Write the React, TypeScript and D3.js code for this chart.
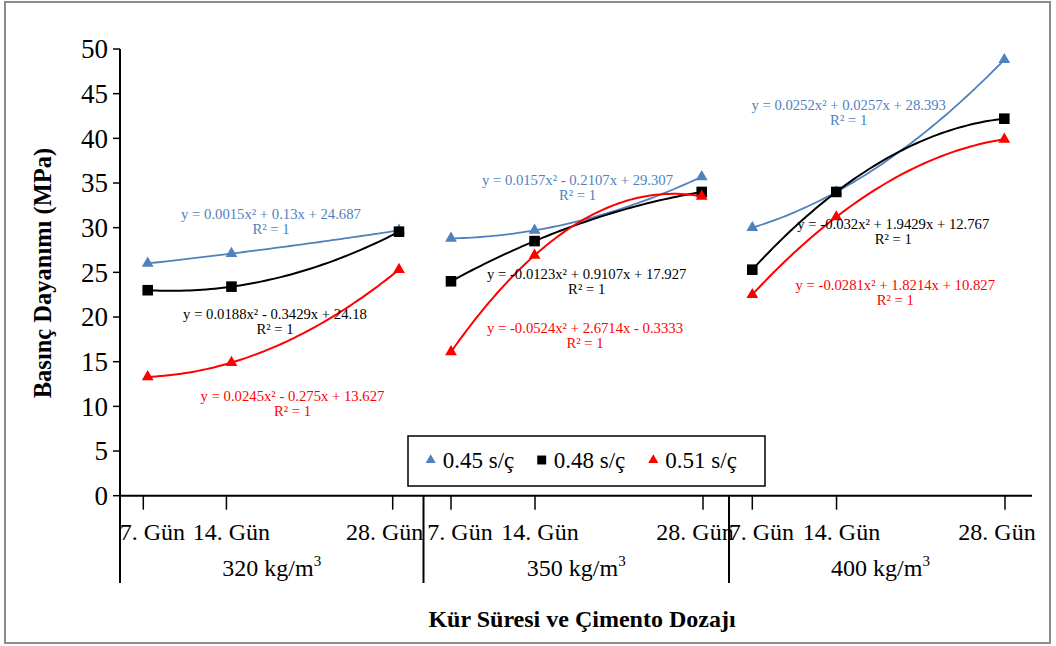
import React from "react";
import * as d3 from "d3";

// ---------- data ----------
const days = [7, 14, 28];
const dayLabels = ["7. Gün", "14. Gün", "28. Gün"];
const groups = ["320", "350", "400"];
const seriesNames = ["0.45 s/ç", "0.48 s/ç", "0.51 s/ç"];
const s045 = [
  [26.0, 27.1, 29.7],
  [28.8, 29.7, 35.7],
  [30.0, 34.0, 48.8],
];
const s048 = [
  [23.0, 23.4, 29.55],
  [24.0, 28.5, 34.0],
  [25.3, 34.0, 42.2],
];
const s051 = [
  [13.3, 14.9, 25.3],
  [16.1, 26.9, 33.5],
  [22.5, 31.2, 39.9],
];
const eq045 = [
  "y = 0.0015x² + 0.13x + 24.687",
  "y = 0.0157x² - 0.2107x + 29.307",
  "y = 0.0252x² + 0.0257x + 28.393",
];
const eq048 = [
  "y = 0.0188x² - 0.3429x + 24.18",
  "y = -0.0123x² + 0.9107x + 17.927",
  "y = -0.032x² + 1.9429x + 12.767",
];
const eq051 = [
  "y = 0.0245x² - 0.275x + 13.627",
  "y = -0.0524x² + 2.6714x - 0.3333",
  "y = -0.0281x² + 1.8214x + 10.827",
];
const yTicks = [0, 5, 10, 15, 20, 25, 30, 35, 40, 45, 50];

// ---------- layout ----------
const W = 1056;
const H = 646;
const AX_X = 120;
const AX_Y = 495.7;
const AX_END = 1032;
const pointRanges = [
  [147.7, 399],
  [451, 701.7],
  [752.3, 1004.3],
];
const tickRanges = [
  [143.3, 392.7],
  [451, 703],
  [752.3, 1005],
];
const separators = [AX_X, 423.5, 729];
const labelOffsets = [9, 5, -8];
// equation label centers [x, baseline y]
const eqPos = [
  [[271, 219], [577.5, 185], [848.7, 110]],
  [[275, 319.3], [586.7, 279.3], [893.3, 229.3]],
  [[292.5, 400.7], [585, 332.7], [895.3, 290]],
];
const colors = ["#4F81BD", "#000000", "#FF0000"];
const FONT = "'Liberation Serif', 'Times New Roman', serif";

const y = d3.scaleLinear().domain([0, 50]).range([AX_Y, 49]);

function quad(xs: number[], ys: number[]) {
  return (x: number) => {
    let s = 0;
    for (let i = 0; i < 3; i++) {
      let t = ys[i];
      for (let j = 0; j < 3; j++) if (j !== i) t *= (x - xs[j]) / (xs[i] - xs[j]);
      s += t;
    }
    return s;
  };
}

const allSeries = [s045, s048, s051];
const allEq = [eq045, eq048, eq051];
const triangle = d3.symbol().type(d3.symbolTriangle);
const square = d3.symbol().type(d3.symbolSquare);

export default function App() {
  const markerPath = (si: number, big: boolean) =>
    si === 1 ? square.size(big ? 112 : 80)() : triangle.size(big ? 60 : 44)();

  return (
    <svg
      width={W}
      height={H}
      style={{ position: "absolute", left: 0, top: 0, background: "#fff", fontFamily: FONT }}
    >
      <rect x={0} y={0} width={W} height={H} fill="#fff" />
      <rect x={5} y={2} width={1045} height={641} fill="none" stroke="#8c8c8c" strokeWidth={2} />

      {/* y axis */}
      <line x1={AX_X} x2={AX_X} y1={y(50)} y2={583} stroke="#000" strokeWidth={2} />
      {yTicks.map((t) => (
        <g key={t}>
          <line x1={AX_X - 7} x2={AX_X} y1={y(t)} y2={y(t)} stroke="#000" strokeWidth={1.5} />
          <text x={108} y={y(t)} dy="0.35em" textAnchor="end" fontSize={27}>
            {t}
          </text>
        </g>
      ))}
      <text
        transform={`translate(51,273) rotate(-90)`}
        textAnchor="middle"
        fontSize={24.5}
        fontWeight="bold"
      >
        Basınç Dayanımı (MPa)
      </text>

      {/* x axis */}
      <line x1={AX_X} x2={AX_END} y1={AX_Y} y2={AX_Y} stroke="#000" strokeWidth={2} />
      {separators.map((sx, i) => (
        <line key={i} x1={sx} x2={sx} y1={AX_Y} y2={583} stroke="#000" strokeWidth={2} />
      ))}
      {groups.map((g, gi) => {
        const tx = d3.scaleLinear().domain([7, 28]).range(tickRanges[gi]);
        const left = separators[gi];
        const right = gi < 2 ? separators[gi + 1] : AX_END;
        return (
          <g key={g}>
            {days.map((d, di) => (
              <g key={d}>
                <line x1={tx(d)} x2={tx(d)} y1={AX_Y} y2={AX_Y + 14} stroke="#000" strokeWidth={1.5} />
                <text x={tx(d) + labelOffsets[di]} y={539.5} textAnchor="middle" fontSize={24}>
                  {dayLabels[di]}
                </text>
              </g>
            ))}
            <text x={(left + right) / 2} y={576} textAnchor="middle" fontSize={24}>
              {g} kg/m
              <tspan fontSize={15} dy={-10}>
                3
              </tspan>
            </text>
          </g>
        );
      })}
      <text x={582} y={627} textAnchor="middle" fontSize={24} fontWeight="bold">
        Kür Süresi ve Çimento Dozajı
      </text>

      {/* series */}
      {allSeries.map((ser, si) => (
        <g key={si}>
          {ser.map((vals, gi) => {
            const px = d3.scaleLinear().domain([7, 28]).range(pointRanges[gi]);
            const f = quad(days, vals);
            const samples = d3.range(0, 61).map((k) => 7 + (21 * k) / 60);
            const line = d3
              .line<number>()
              .x((d) => px(d))
              .y((d) => y(f(d)));
            return (
              <g key={gi}>
                <path d={line(samples) || ""} fill="none" stroke={colors[si]} strokeWidth={si === 0 ? 1.8 : 2} />
                {days.map((d, di) => (
                  <path
                    key={d}
                    d={markerPath(si, true) || ""}
                    transform={`translate(${px(d)},${y(vals[di])})`}
                    fill={colors[si]}
                  />
                ))}
              </g>
            );
          })}
        </g>
      ))}

      {/* equations */}
      {allEq.map((eqs, si) =>
        eqs.map((e, gi) => (
          <g key={`${si}-${gi}`} fill={colors[si]} fontSize={14.7} textAnchor="middle">
            <text x={eqPos[si][gi][0]} y={eqPos[si][gi][1]}>
              {e}
            </text>
            <text x={eqPos[si][gi][0]} y={eqPos[si][gi][1] + 15}>
              R² = 1
            </text>
          </g>
        ))
      )}

      {/* legend */}
      <rect x={408} y={436} width={357} height={50} fill="#fff" stroke="#000" strokeWidth={1.5} />
      {seriesNames.map((n, i) => {
        const lx = [430.7, 541.7, 653.3][i];
        return (
          <g key={n}>
            <path d={markerPath(i, false) || ""} transform={`translate(${lx},${460})`} fill={colors[i]} />
            <text x={lx + 12} y={468} fontSize={23}>
              {n}
            </text>
          </g>
        );
      })}
    </svg>
  );
}
